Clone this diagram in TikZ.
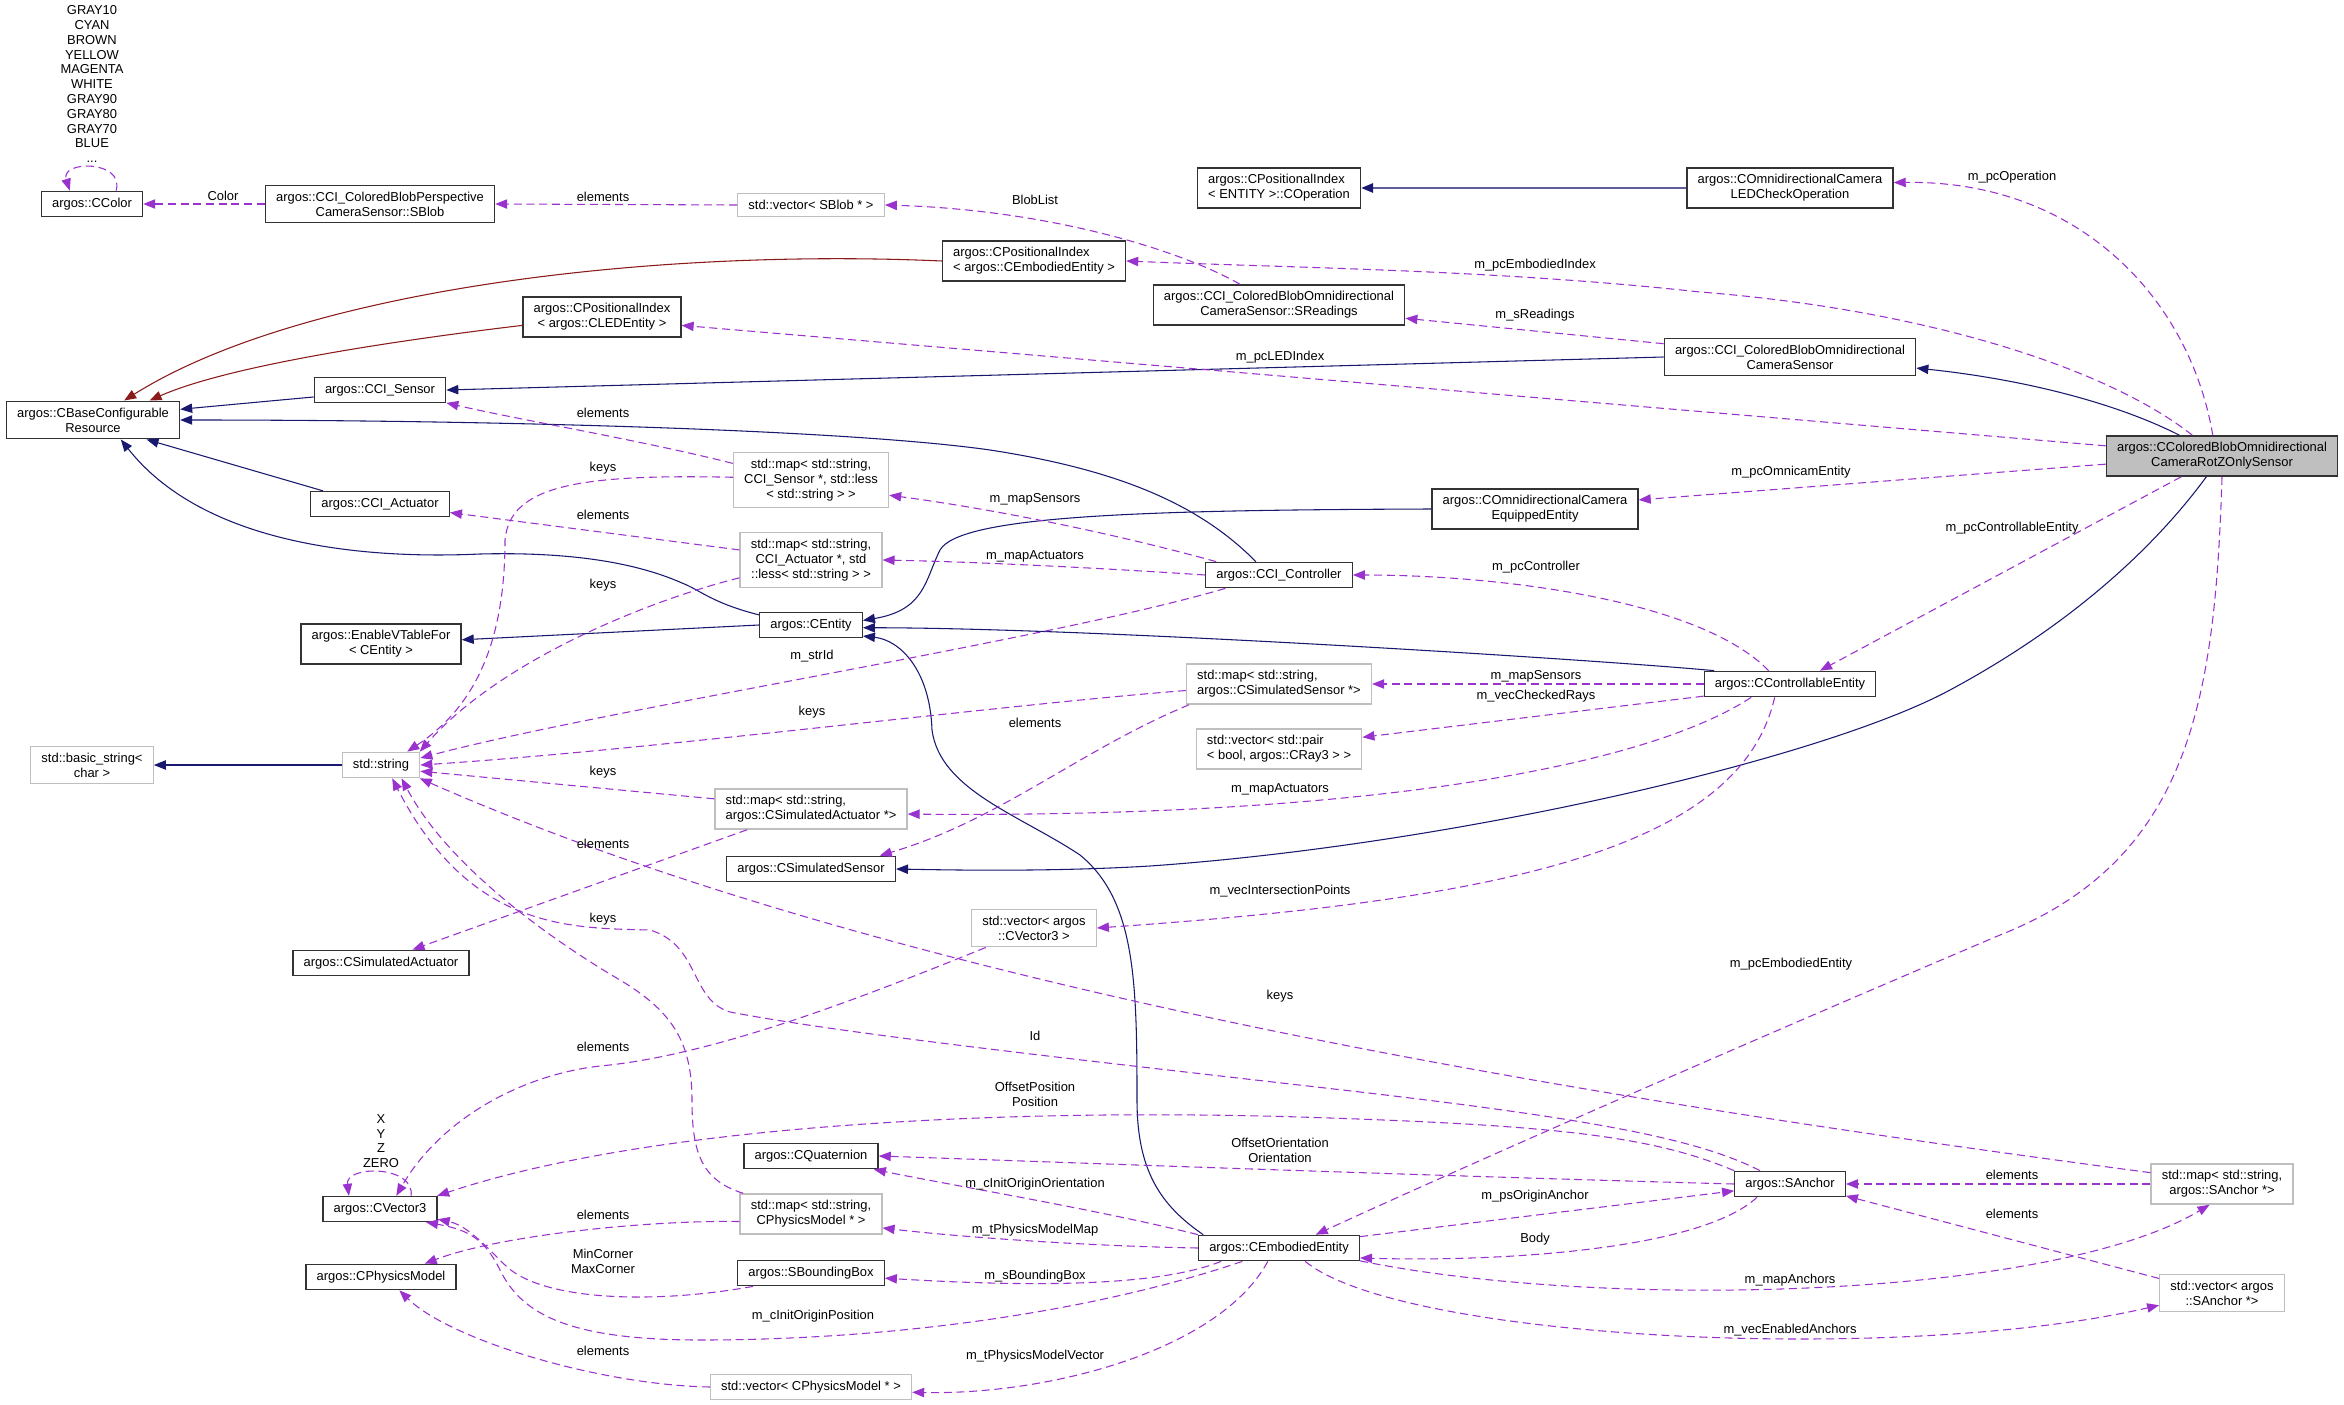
\documentclass[tikz,border=0pt]{standalone}
\usepackage{fontspec}
\setmainfont{Liberation Sans}
\usetikzlibrary{arrows.meta}
\definecolor{inhblue}{HTML}{191970}
\definecolor{privred}{HTML}{8B1A1A}
\definecolor{usepurple}{HTML}{9A32CD}
\definecolor{boxgray}{HTML}{BFBFBF}
\newcommand{\dxfont}{\fontsize{9.7}{11.1}\selectfont}

\begin{document}
\begin{tikzpicture}[x=0.75pt,y=-0.75pt,
  cls/.style={draw=black!80, line width=1pt, fill=white, inner xsep=8pt, inner ysep=5pt, align=center, font=\dxfont},
  tpl/.style={cls, draw=boxgray},
  focus/.style={cls, fill=boxgray},
  inherit/.style={draw=inhblue, line width=0.8pt, -{Triangle[length=9pt,width=7pt]}},
  priv/.style={inherit, draw=privred},
  usage/.style={draw=usepurple, line width=0.8pt, dash pattern=on 6pt off 3.5pt, -{Triangle[length=9pt,width=7pt]}},
  lbl/.style={font=\dxfont, inner sep=0pt, align=center}]
  \fill[white] (0,0) rectangle (2344,1405);
  \useasboundingbox (0,0) rectangle (2344,1405);

  % Clases
  \node[cls] (ccolor) at (92,204) {argos::CColor};
  \node[cls] (sblob) at (380,204) {argos::CCI\_ColoredBlobPerspective\\CameraSensor::SBlob};
  \node[tpl] (vecsblob) at (811,205) {std::vector< SBlob * >};
  \node[cls, align=left] (coperation) at (1279,188) {argos::CPositionalIndex\\< ENTITY >::COperation};
  \node[cls] (ledcheck) at (1790,188) {argos::COmnidirectionalCamera\\LEDCheckOperation};
  \node[cls, align=left] (piembodied) at (1034,261) {argos::CPositionalIndex\\< argos::CEmbodiedEntity >};
  \node[cls] (sreadings) at (1279,305) {argos::CCI\_ColoredBlobOmnidirectional\\CameraSensor::SReadings};
  \node[cls] (piled) at (602,317) {argos::CPositionalIndex\\< argos::CLEDEntity >};
  \node[cls] (omnisensor) at (1790,357) {argos::CCI\_ColoredBlobOmnidirectional\\CameraSensor};
  \node[cls] (ccisensor) at (380,390) {argos::CCI\_Sensor};
  \node[cls] (cbase) at (93,420) {argos::CBaseConfigurable\\Resource};
  \node[focus] (rotz) at (2222,456) {argos::CColoredBlobOmnidirectional\\CameraRotZOnlySensor};
  \node[tpl] (mapsensor) at (811,480) {std::map< std::string,\\CCI\_Sensor *, std::less\\< std::string > >};
  \node[cls] (omnientity) at (1535,509) {argos::COmnidirectionalCamera\\EquippedEntity};
  \node[cls] (cciactuator) at (380,504) {argos::CCI\_Actuator};
  \node[tpl] (mapactuator) at (811,560) {std::map< std::string,\\CCI\_Actuator *, std\\::less< std::string > >};
  \node[cls] (controller) at (1279,575) {argos::CCI\_Controller};
  \node[cls] (centity) at (811,625) {argos::CEntity};
  \node[cls] (vtable) at (381,644) {argos::EnableVTableFor\\< CEntity >};
  \node[cls] (controllable) at (1790,684) {argos::CControllableEntity};
  \node[tpl, align=left] (mapsimsensor) at (1279,684) {std::map< std::string,\\argos::CSimulatedSensor *>};
  \node[tpl, align=left] (vecrays) at (1279,749) {std::vector< std::pair\\< bool, argos::CRay3 > >};
  \node[tpl] (basicstring) at (92,765) {std::basic\_string<\\char >};
  \node[tpl] (stdstring) at (381,765) {std::string};
  \node[tpl, align=left] (mapsimact) at (811,809) {std::map< std::string,\\argos::CSimulatedActuator *>};
  \node[cls] (simsensor) at (811,869) {argos::CSimulatedSensor};
  \node[tpl] (vecvector) at (1034,928) {std::vector< argos\\::CVector3 >};
  \node[cls] (simact) at (381,963) {argos::CSimulatedActuator};
  \node[cls] (cvector) at (380,1209) {argos::CVector3};
  \node[cls] (quaternion) at (811,1156) {argos::CQuaternion};
  \node[cls] (sanchor) at (1790,1184) {argos::SAnchor};
  \node[tpl] (mapanchor) at (2222,1184) {std::map< std::string,\\argos::SAnchor *>};
  \node[tpl] (mapphysics) at (811,1214) {std::map< std::string,\\CPhysicsModel * >};
  \node[cls] (physicsmodel) at (381,1277) {argos::CPhysicsModel};
  \node[cls] (boundingbox) at (811,1273) {argos::SBoundingBox};
  \node[cls] (embodied) at (1279,1248) {argos::CEmbodiedEntity};
  \node[tpl] (vecanchor) at (2222,1293) {std::vector< argos\\::SAnchor *>};
  \node[tpl] (vecphysics) at (811,1387) {std::vector< CPhysicsModel * >};

  % Herencia
  \draw[inherit] (ccisensor.186) -- (cbase.7);
  \draw[inherit] (controller.150) .. controls (1200,505) and (1120,470) .. (990,450) .. controls (850,430) and (500,420) .. (cbase.east);
  \draw[inherit] (cciactuator.167) -- (cbase.-20);
  \draw[inherit] (centity.169) .. controls (712,603) and (700,590) .. (682,583) .. controls (630,560) and (560,552) .. (480,554) .. controls (350,560) and (200,540) .. (cbase.-35);
  \draw[inherit] (omnisensor.west) -- (ccisensor.east);
  \draw[inherit] (rotz.154) .. controls (2120,405) and (2030,380) .. (omnisensor.-5);
  \draw[inherit] (omnientity.west) .. controls (1150,510) and (960,515) .. (940,550) .. controls (925,580) and (925,610) .. (centity.5);
  \draw[inherit] (controllable.170) .. controls (1600,660) and (1100,628) .. (centity.-3);
  \draw[inherit] (embodied.170) .. controls (1160,1205) and (1137,1170) .. (1137,1100) .. controls (1137,980) and (1135,900) .. (1080,855) .. controls (1020,815) and (940,790) .. (932,730) .. controls (930,670) and (900,640) .. (centity.-12);
  \draw[inherit] (centity.west) -- (vtable.3);
  \draw[inherit] (stdstring.west) -- (basicstring.east);
  \draw[inherit] (rotz.-127) .. controls (2160,540) and (2080,620) .. (1950,690) .. controls (1820,760) and (1450,845) .. (1150,866) .. controls (1050,872) and (950,870) .. (simsensor.east);
  \draw[draw=inhblue!70, line width=1.4pt, -{Triangle[length=9pt,width=7pt,color=inhblue]}] (ledcheck.west) -- (coperation.east);
  \draw[priv] (piembodied.west) .. controls (650,248) and (300,290) .. (cbase.32);
  \draw[priv] (piled.186) .. controls (400,340) and (230,365) .. (cbase.19);

  % Relaciones de uso
  \draw[usage] (ccolor.29) .. controls (125,160) and (60,160) .. (ccolor.149);
  \draw[usage] (sblob.west) -- (ccolor.east);
  \draw[usage] (vecsblob.west) -- (sblob.east);
  \draw[usage] (sreadings.152) .. controls (1180,250) and (1050,210) .. (vecsblob.east);
  \draw[usage] (rotz.114) .. controls (2190,300) and (2080,180) .. (ledcheck.3);
  \draw[usage] (rotz.145) .. controls (2110,370) and (1930,310) .. (1700,292) .. controls (1500,270) and (1300,268) .. (piembodied.east);
  \draw[usage] (omnisensor.174) -- (sreadings.-6);
  \draw[usage] (rotz.175) -- (piled.-6);
  \draw[usage] (rotz.184) -- (omnientity.5);
  \draw[usage] (rotz.-153) -- (controllable.24);
  \draw[usage] (rotz.-90) .. controls (2215,700) and (2190,860) .. (2000,935) .. controls (1800,1020) and (1500,1150) .. (embodied.20);
  \draw[usage] (mapsensor.168) .. controls (640,440) and (520,420) .. (ccisensor.-11);
  \draw[usage] (mapsensor.178) .. controls (580,474) and (510,485) .. (505,540) .. controls (505,650) and (470,710) .. (stdstring.27);
  \draw[usage] (controller.168) .. controls (1120,535) and (1000,510) .. (mapsensor.-11);
  \draw[usage] (controller.west) .. controls (1100,568) and (980,562) .. (mapactuator.east);
  \draw[usage] (mapactuator.172) -- (cciactuator.-7);
  \draw[usage] (mapactuator.194) .. controls (650,600) and (500,660) .. (stdstring.19);
  \draw[usage] (controller.194) .. controls (1050,640) and (600,710) .. (stdstring.10);
  \draw[usage] (mapsimsensor.184) .. controls (1000,705) and (650,750) .. (stdstring.east);
  \draw[usage] (mapsimsensor.193) .. controls (1080,750) and (1000,820) .. (simsensor.11);
  \draw[usage] (controllable.west) -- (mapsimsensor.east);
  \draw[usage] (controllable.188) -- (vecrays.8);
  \draw[usage] (controllable.199) .. controls (1640,770) and (1350,818) .. (mapsimact.-3);
  \draw[usage] (controllable.148) .. controls (1700,600) and (1500,575) .. (controller.east);
  \draw[usage] (controllable.221) .. controls (1740,850) and (1500,900) .. (vecvector.east);
  \draw[usage] (mapsimact.174) -- (stdstring.-9);
  \draw[usage] (mapsimact.-162) -- (simact.23);
  \draw[usage] (vecvector.-158) .. controls (880,990) and (720,1055) .. (600,1066) .. controls (520,1075) and (440,1120) .. (cvector.39);
  \draw[usage] (sanchor.156) .. controls (1700,1140) and (1600,1120) .. (1360,1092) .. controls (1100,1062) and (850,1035) .. (730,1012) .. controls (690,1000) and (700,945) .. (650,930) .. controls (570,928) and (470,930) .. (stdstring.-50);
  \draw[usage] (mapphysics.163) .. controls (700,1180) and (692,1150) .. (692,1100) .. controls (692,1040) and (670,1010) .. (620,980) .. controls (560,945) and (450,870) .. (stdstring.-33);
  \draw[usage] (mapanchor.171) .. controls (1600,1100) and (900,990) .. (stdstring.-19);
  \draw[usage] (sanchor.north west) .. controls (1650,1135) and (1550,1125) .. (1300,1117) .. controls (1000,1108) and (650,1125) .. (cvector.13);
  \draw[usage] (sanchor.west) .. controls (1400,1175) and (1000,1160) .. (quaternion.east);
  \draw[usage] (embodied.north west) .. controls (1100,1210) and (950,1185) .. (quaternion.-12);
  \draw[usage] (embodied.west) .. controls (1080,1246) and (950,1236) .. (mapphysics.-11);
  \draw[usage] (embodied.193) .. controls (1150,1290) and (1000,1285) .. (boundingbox.-4);
  \draw[usage] (embodied.200) .. controls (1100,1310) and (900,1340) .. (700,1340) .. controls (560,1340) and (520,1310) .. (500,1270) .. controls (485,1240) and (470,1230) .. (cvector.-16);
  \draw[usage] (boundingbox.193) .. controls (650,1305) and (540,1300) .. (505,1265) .. controls (480,1240) and (465,1225) .. (cvector.-10);
  \draw[usage] (mapphysics.186) .. controls (650,1220) and (500,1235) .. (physicsmodel.17);
  \draw[usage] (vecphysics.west) .. controls (600,1385) and (450,1340) .. (physicsmodel.-36);
  \draw[usage] (embodied.-130) .. controls (1220,1350) and (1050,1395) .. (vecphysics.-3);
  \draw[usage] (embodied.8) -- (sanchor.187);
  \draw[usage] (sanchor.-158) .. controls (1700,1250) and (1500,1262) .. (embodied.-7);
  \draw[usage] (mapanchor.west) -- (sanchor.east);
  \draw[usage] (vecanchor.167) -- (sanchor.-12);
  \draw[usage] (embodied.-9) .. controls (1600,1310) and (2050,1300) .. (mapanchor.-121);
  \draw[usage] (embodied.-27) .. controls (1400,1340) and (1900,1365) .. (vecanchor.191);
  \draw[usage] (cvector.23) .. controls (415,1165) and (345,1165) .. (cvector.157);

  % Etiquetas
  \node[lbl, anchor=south] (colorset) at (92,163) {GRAY10\\CYAN\\BROWN\\YELLOW\\MAGENTA\\WHITE\\GRAY90\\GRAY80\\GRAY70\\BLUE\\...};
  \node[lbl, anchor=south] (vecconst) at (381,1168) {X\\Y\\Z\\ZERO};
  \foreach \lx/\ly/\ltext [count=\li] in {223/196/Color, 603/197/elements, 1035/200/BlobList,
      2012/177/m\_pcOperation, 1535/265/m\_pcEmbodiedIndex, 1535/315/m\_sReadings,
      1280/357/m\_pcLEDIndex, 603/413/elements, 603/468/keys, 1791/472/m\_pcOmnicamEntity,
      1035/499/m\_mapSensors, 603/515/elements, 2012/528/m\_pcControllableEntity,
      1035/556/m\_mapActuators, 1536/567/m\_pcController, 603/585/keys, 812/656/m\_strId,
      1536/676/m\_mapSensors, 1536/696/m\_vecCheckedRays, 812/712/keys, 1035/723/elements,
      603/772/keys, 1280/789/m\_mapActuators, 603/844/elements, 1280/891/m\_vecIntersectionPoints,
      603/919/keys, 1791/964/m\_pcEmbodiedEntity, 1280/996/keys, 1035/1036/Id,
      603/1047/elements, 1035/1094/{OffsetPosition\\Position}, 1280/1150/{OffsetOrientation\\Orientation},
      2012/1175/elements, 1035/1184/m\_cInitOriginOrientation, 1535/1196/m\_psOriginAnchor,
      2012/1214/elements, 603/1215/elements, 1035/1230/m\_tPhysicsModelMap, 1535/1239/Body,
      603/1261/{MinCorner\\MaxCorner}, 1035/1276/m\_sBoundingBox, 1790/1280/m\_mapAnchors,
      813/1316/m\_cInitOriginPosition, 1790/1330/m\_vecEnabledAnchors, 603/1351/elements,
      1035/1356/m\_tPhysicsModelVector}
    \node[lbl] (lab\li) at (\lx,\ly) {\ltext};
\end{tikzpicture}
\end{document}
